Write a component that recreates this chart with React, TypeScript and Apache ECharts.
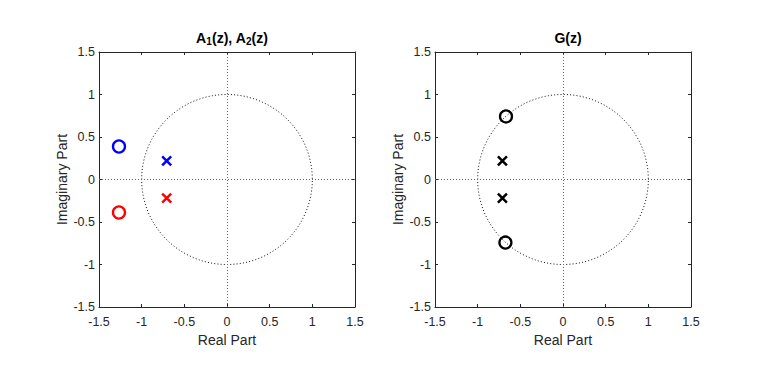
import React, { useEffect, useRef } from "react";
import * as echarts from "echarts";

// Pole/zero positions
const zerosA1: number[][] = [[-1.266, 0.388]];
const polesA1: number[][] = [[-0.707, 0.22]];
const zerosA2: number[][] = [[-1.266, -0.388]];
const polesA2: number[][] = [[-0.707, -0.22]];
const zerosG: number[][] = [[-0.668, 0.742], [-0.675, -0.742]];
const polesG: number[][] = [[-0.71, 0.22], [-0.71, -0.22]];
const unitCircle: number[][] = [[0, 0, 1]];
const axisMin = -1.5;
const axisMax = 1.5;
const axisStep = 0.5;
const titles = ["{m|A}{s|1}{m|(z), A}{s|2}{m|(z)}", "{m|G(z)}"];

const FONT = "Liberation Sans, Arial, Helvetica, sans-serif";
const AX = "#262626";
const CROSS = "path://M0,0L10,10M10,0L0,10";

export default function App() {
  const ref = useRef<HTMLDivElement>(null);
  useEffect(() => {
    if (!ref.current) return;
    const chart = echarts.init(ref.current, undefined, { renderer: "svg" });
    const grids = [
      { left: 99, top: 52, width: 256, height: 255 },
      { left: 435, top: 52, width: 256, height: 255 },
    ];
    const xAxes: any[] = [];
    const yAxes: any[] = [];
    grids.forEach((_, g) => {
      const common = {
        gridIndex: g,
        type: "value",
        min: axisMin,
        max: axisMax,
        interval: axisStep,
        splitLine: { show: false },
        axisLine: { show: true, onZero: false, lineStyle: { color: AX, width: 1 } },
        axisTick: { show: true, inside: true, length: 3, lineStyle: { color: AX } },
      };
      xAxes.push({
        ...common,
        position: "bottom",
        axisLabel: { color: AX, fontSize: 12.5, fontFamily: FONT, margin: 8 },
        name: "Real Part",
        nameLocation: "middle",
        nameGap: 23,
        nameTextStyle: { color: AX, fontSize: 14, fontFamily: FONT },
      });
      xAxes.push({ ...common, position: "top", axisLabel: { show: false } });
      yAxes.push({
        ...common,
        position: "left",
        axisLabel: { color: AX, fontSize: 12.5, fontFamily: FONT, margin: 4 },
        name: "Imaginary Part",
        nameLocation: "middle",
        nameGap: 30,
        nameTextStyle: { color: AX, fontSize: 14, fontFamily: FONT },
      });
      yAxes.push({ ...common, position: "right", axisLabel: { show: false } });
    });

    const circleSeries = (g: number) => ({
      type: "custom",
      xAxisIndex: g * 2,
      yAxisIndex: g * 2,
      data: unitCircle,
      silent: true,
      clip: false,
      z: 1,
      renderItem: (_p: any, api: any) => {
        const c = api.coord([api.value(0), api.value(1)]);
        const s = api.size([api.value(2), api.value(2)]);
        return {
          type: "ellipse",
          shape: { cx: c[0], cy: c[1], rx: s[0], ry: s[1] },
          style: { fill: "none", stroke: "#111", lineWidth: 1, lineDash: [1, 2.2] },
        };
      },
      markLine: {
        silent: true,
        symbol: ["none", "none"],
        label: { show: false },
        lineStyle: { color: "#666", width: 1, type: [1, 2] },
        data: [{ xAxis: 0 }, { yAxis: 0 }],
      },
    });

    const zeroSeries = (g: number, data: number[][], color: string) => ({
      type: "scatter",
      xAxisIndex: g * 2,
      yAxisIndex: g * 2,
      data,
      symbol: "circle",
      symbolSize: 12,
      z: 3,
      itemStyle: { color: "rgba(0,0,0,0)", borderColor: color, borderWidth: 2.3, opacity: 1 },
    });
    const poleSeries = (g: number, data: number[][], color: string) => ({
      type: "scatter",
      xAxisIndex: g * 2,
      yAxisIndex: g * 2,
      data,
      symbol: CROSS,
      symbolSize: 9,
      z: 3,
      itemStyle: { color: color, borderColor: color, borderWidth: 2.5, opacity: 1 },
    });

    chart.setOption({
      animation: false,
      backgroundColor: "#ffffff",
      title: titles.map((t, i) => ({
        text: t,
        left: grids[i].left + grids[i].width / 2,
        top: 24,
        textAlign: "center",
        textStyle: {
          rich: {
            m: { fontSize: 14, fontWeight: "bold", fontFamily: FONT, color: "#000", lineHeight: 17 },
            s: { fontSize: 10, fontWeight: "bold", fontFamily: FONT, color: "#000", lineHeight: 11, verticalAlign: "bottom", padding: [4, 0, 0, 0] },
          },
        },
      })),
      grid: grids,
      xAxis: xAxes,
      yAxis: yAxes,
      series: [
        circleSeries(0),
        zeroSeries(0, zerosA1, "#0000ff"),
        poleSeries(0, polesA1, "#0000ff"),
        zeroSeries(0, zerosA2, "#ff0000"),
        poleSeries(0, polesA2, "#ff0000"),
        circleSeries(1),
        zeroSeries(1, zerosG, "#000000"),
        poleSeries(1, polesG, "#000000"),
      ],
    });
    return () => chart.dispose();
  }, []);
  return (
    <div
      ref={ref}
      style={{ position: "fixed", left: 0, top: 0, width: 764, height: 373, background: "#fff" }}
    />
  );
}
